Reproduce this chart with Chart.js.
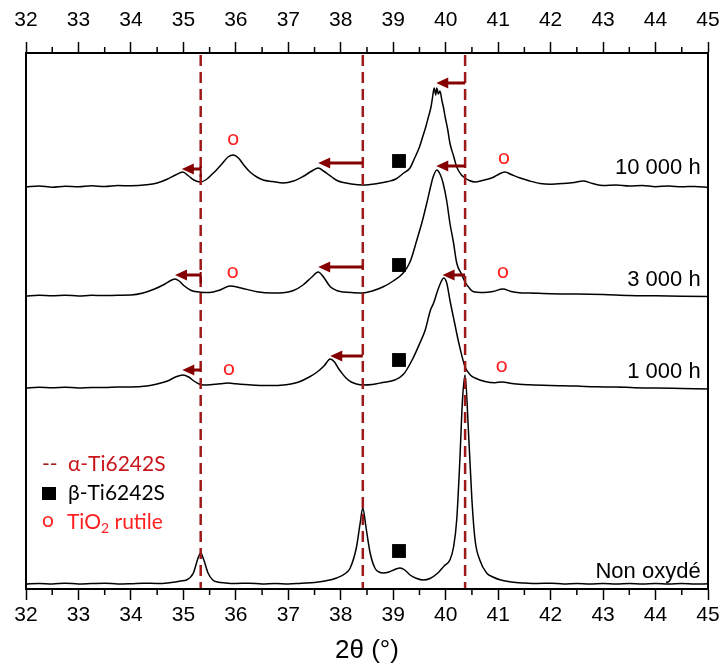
<!DOCTYPE html>
<html>
<head>
<meta charset="utf-8">
<script src="https://cdn.jsdelivr.net/npm/chart.js@4/dist/chart.umd.min.js"></script>
<style>
  html, body { margin: 0; padding: 0; background: #fff; }
  canvas { display: block; }
</style>
</head>
<body>
<canvas id="xrd" width="724" height="668"></canvas>
<script>
// --- DONNEES (2theta en degres, intensite decalee par echantillon) ---
const sampleNames = ['Non oxydé', '1 000 h', '3 000 h', '10 000 h'];
const sampleLabelY = [17, 217, 309, 421];
const alphaLines = [35.33, 38.42, 40.37];

const nonOxyde = [
  [32, 5], [32.25, 5.5], [32.5, 5], [32.75, 5.8], [33, 5], [33.25, 5.4], [33.5, 5.8], [33.75, 5], [34, 5.3],
  [34.25, 5.8], [34.5, 5.5], [34.7, 6], [34.85, 7], [34.95, 8], [35.06, 9], [35.19, 16], [35.28, 31],
  [35.33, 36], [35.39, 29], [35.47, 16], [35.56, 9], [35.65, 7], [35.8, 6], [36, 5.5], [36.25, 5.8],
  [36.5, 5], [36.75, 5.5], [37, 5], [37.25, 5.8], [37.5, 6.5], [37.7, 8], [37.92, 11], [38.1, 16],
  [38.18, 21], [38.3, 42], [38.37, 66], [38.42, 81], [38.48, 62], [38.56, 36], [38.65, 21], [38.73, 17],
  [38.81, 16], [38.92, 17], [39.03, 19.5], [39.13, 21], [39.22, 19], [39.32, 14], [39.45, 10.5],
  [39.57, 9], [39.7, 10.5], [39.85, 16], [39.97, 23], [40.08, 29], [40.15, 42], [40.21, 69],
  [40.27, 129], [40.32, 189], [40.37, 214], [40.43, 162], [40.5, 89], [40.56, 49], [40.65, 29],
  [40.78, 16], [40.9, 12], [41.05, 9], [41.25, 7], [41.5, 6], [41.75, 5.5], [42, 5.8], [42.25, 5],
  [42.5, 5.5], [42.75, 5], [43, 5.6], [43.25, 5], [43.5, 5.4], [43.75, 5], [44, 5.6], [44.25, 5],
  [44.5, 5.4], [44.75, 5], [45, 5.2]
];

const h1000 = [
  [32, 201], [32.25, 201.8], [32.5, 201.2], [32.75, 201.8], [33, 201], [33.25, 201.6], [33.5, 201.5],
  [33.75, 202], [34, 202], [34.3, 203], [34.5, 205], [34.7, 208], [34.85, 212], [34.99, 214],
  [35.1, 212], [35.2, 208], [35.3, 205], [35.4, 204], [35.55, 204.5], [35.7, 205.2], [35.85, 206],
  [36, 205.2], [36.3, 204], [36.6, 203.5], [36.85, 203.8], [37.05, 205], [37.2, 207], [37.4, 212],
  [37.55, 217], [37.68, 223], [37.8, 230], [37.88, 227], [37.95, 221], [38.02, 216], [38.1, 211],
  [38.2, 207], [38.3, 205], [38.42, 204], [38.6, 204.5], [38.8, 206.5], [39.03, 209], [39.2, 215],
  [39.36, 229], [39.5, 245], [39.61, 259], [39.71, 279], [39.77, 286], [39.85, 299], [39.92, 308],
  [39.96, 311], [40.02, 306], [40.08, 289], [40.17, 266], [40.25, 246], [40.37, 222], [40.47, 214],
  [40.56, 211], [40.75, 207.5], [40.94, 206.3], [41.07, 207], [41.3, 205.2], [41.6, 204.2], [42, 203.5],
  [42.5, 203], [42.85, 202.2], [43.25, 202], [43.6, 201.3], [44, 201], [44.5, 200.5], [45, 200]
];

const h3000 = [
  [32, 293], [32.25, 293.8], [32.5, 293.3], [32.75, 293.8], [33, 293], [33.25, 293.7], [33.5, 293.4],
  [33.75, 293.8], [34, 294], [34.23, 296], [34.45, 300], [34.65, 305], [34.78, 309], [34.84, 310],
  [34.92, 308], [35.02, 303], [35.15, 298.5], [35.32, 296.8], [35.5, 296.5], [35.7, 299], [35.89, 303],
  [36.1, 301], [36.4, 297.3], [36.7, 296], [36.9, 296.2], [37.1, 298.5], [37.28, 304], [37.45, 312],
  [37.57, 317], [37.67, 312], [37.8, 302.3], [37.92, 298.5], [38.05, 297], [38.25, 296.3], [38.42, 296],
  [38.6, 298], [38.8, 302], [39, 308], [39.19, 316], [39.32, 327], [39.45, 349], [39.55, 367],
  [39.64, 386], [39.72, 404], [39.76, 412], [39.83, 419], [39.9, 414], [39.95, 406], [40.02, 388],
  [40.08, 366], [40.15, 346], [40.21, 326], [40.3, 315], [40.37, 307], [40.45, 301], [40.52, 297.5],
  [40.72, 296.5], [40.9, 297.5], [41.09, 300], [41.25, 297.5], [41.4, 296.3], [41.6, 296], [42, 295.3],
  [42.5, 295], [43, 294.5], [43.5, 293.6], [44, 293.2], [44.5, 292.8], [45, 292.4]
];

const h10000 = [
  [32, 402], [32.25, 403], [32.5, 401.8], [32.75, 402.8], [33, 402.2], [33.25, 403.2], [33.5, 402.4],
  [33.75, 403.4], [34, 403.2], [34.3, 404.2], [34.5, 406], [34.7, 410], [34.85, 414], [34.99, 417],
  [35.1, 413], [35.2, 409], [35.32, 407], [35.45, 410], [35.55, 415], [35.63, 419], [35.75, 426],
  [35.85, 432], [35.95, 434], [36.05, 431], [36.15, 424], [36.27, 417], [36.4, 412], [36.52, 409],
  [36.7, 407.5], [36.9, 406], [37.1, 408], [37.28, 412.5], [37.45, 418], [37.57, 421], [37.67, 418],
  [37.83, 412], [37.95, 408], [38.05, 406.5], [38.2, 405], [38.42, 404], [38.7, 405.5], [38.9, 407.5],
  [39.05, 410], [39.2, 416], [39.32, 421], [39.4, 430], [39.5, 442], [39.56, 452], [39.62, 462],
  [39.67, 472], [39.72, 482], [39.75, 492], [39.78, 501], [39.81, 494], [39.83, 501], [39.86, 495],
  [39.89, 498], [39.93, 488], [39.96, 481], [39.99, 472], [40.04, 459], [40.08, 446], [40.15, 433],
  [40.21, 422], [40.3, 414], [40.37, 411], [40.45, 408.5], [40.56, 407], [40.7, 408.5], [40.9, 411.5],
  [41.02, 415], [41.13, 417], [41.25, 414.5], [41.42, 411], [41.6, 408], [41.8, 405.5], [42, 404.8],
  [42.25, 405.5], [42.45, 406.5], [42.62, 408], [42.8, 405.5], [43, 403.5], [43.25, 404], [43.5, 403],
  [43.75, 403.5], [44, 402.3], [44.25, 403], [44.5, 402.2], [44.75, 402.6], [45, 401.5]
];

// marqueurs beta (carres) et rutile (o)
const betaX = [39.11, 39.11, 39.11, 39.11];
const betaY = [38, 229, 324, 428];
const rutileX = [35.95, 41.11, 35.94, 41.09, 35.87, 41.07];
const rutileY = [449, 430, 316, 316, 219, 222];

// fleches de decalage (depart a droite -> pointe a gauche)
const arrowFrom = [35.33, 38.42, 40.37, 35.33, 38.42, 40.37, 35.33, 38.42, 40.37];
const arrowTo = [34.97, 37.57, 39.82, 34.84, 37.57, 39.82, 34.98, 37.8, 39.94];
const arrowY = [420, 426, 506, 314, 322, 423, 219, 233, 314];
const arrowBar = [true, false, false, true, false, false, false, false, false];

const toXY = arr => arr.map(p => ({ x: p[0], y: p[1] }));

const traceStyle = {
  borderColor: '#000', borderWidth: 1.5, pointRadius: 0, fill: false,
  cubicInterpolationMode: 'monotone'
};

const AXIS_FONT = 'Liberation Sans, Arial, sans-serif';
const LEG_FONT = 'Lato, "Open Sans", sans-serif';

const annotations = {
  id: 'annotations',
  afterDatasetsDraw(chart) {
    const ctx = chart.ctx;
    const xs = chart.scales.x, ys = chart.scales.y;
    const area = chart.chartArea;
    ctx.save();

    // lignes alpha en tirets
    ctx.strokeStyle = '#9e1a1a';
    ctx.lineWidth = 2.5;
    ctx.setLineDash([11, 6]);
    alphaLines.forEach(v => {
      const px = xs.getPixelForValue(v);
      ctx.beginPath();
      ctx.moveTo(px, area.top + 2);
      ctx.lineTo(px, area.bottom);
      ctx.stroke();
    });
    ctx.setLineDash([]);

    // fleches
    ctx.strokeStyle = '#850000';
    ctx.fillStyle = '#850000';
    for (let i = 0; i < arrowFrom.length; i++) {
      const x1 = xs.getPixelForValue(arrowFrom[i]);
      const x2 = xs.getPixelForValue(arrowTo[i]);
      const y = ys.getPixelForValue(arrowY[i]);
      ctx.lineWidth = 3;
      ctx.beginPath();
      ctx.moveTo(x1, y);
      ctx.lineTo(x2 + 9, y);
      ctx.stroke();
      ctx.beginPath();
      ctx.moveTo(x2, y);
      ctx.lineTo(x2 + 12, y - 5.5);
      ctx.lineTo(x2 + 12, y + 5.5);
      ctx.closePath();
      ctx.fill();
      if (arrowBar[i]) {
        ctx.lineWidth = 2;
        ctx.beginPath();
        ctx.moveTo(x1, y - 3);
        ctx.lineTo(x1, y + 8);
        ctx.stroke();
      }
    }

    // o rutile
    ctx.fillStyle = '#ff1f1f';
    ctx.font = '21px ' + LEG_FONT;
    ctx.textAlign = 'center';
    ctx.textBaseline = 'middle';
    rutileX.forEach((v, i) => {
      ctx.fillText('o', xs.getPixelForValue(v), ys.getPixelForValue(rutileY[i]) - 2);
    });

    // noms des echantillons
    ctx.fillStyle = '#000';
    ctx.font = '22px ' + AXIS_FONT;
    ctx.textAlign = 'right';
    sampleNames.forEach((n, i) => {
      ctx.fillText(n, xs.getPixelForValue(44.86), ys.getPixelForValue(sampleLabelY[i]));
    });

    // legende
    const lx = area.left + 16;
    ctx.textAlign = 'left';
    ctx.font = '21px ' + LEG_FONT;
    ctx.fillStyle = '#a11818';
    ctx.fillText('--', lx, 464);
    ctx.fillStyle = '#c8161c';
    ctx.fillText('α-Ti6242S', lx + 26, 464);
    ctx.fillStyle = '#000';
    ctx.fillRect(lx, 487, 14, 13);
    ctx.fillText('β-Ti6242S', lx + 26, 493);
    ctx.fillStyle = '#ff1f1f';
    ctx.fillText('o', lx, 520);
    let tx = lx + 25;
    ctx.fillText('TiO', tx, 522);
    tx += ctx.measureText('TiO').width;
    ctx.font = '14px ' + LEG_FONT;
    ctx.fillText('2', tx, 528);
    tx += ctx.measureText('2').width;
    ctx.font = '21px ' + LEG_FONT;
    ctx.fillText(' rutile', tx, 522);

    // cadre + petites graduations
    ctx.strokeStyle = '#000';
    ctx.lineWidth = 2;
    ctx.strokeRect(area.left, area.top, area.right - area.left, area.bottom - area.top);
    ctx.lineWidth = 1.5;
    for (let v = 32.5; v < 45; v += 1) {
      const px = xs.getPixelForValue(v);
      ctx.beginPath();
      ctx.moveTo(px, area.bottom);
      ctx.lineTo(px, area.bottom + 6);
      ctx.moveTo(px, area.top);
      ctx.lineTo(px, area.top - 6);
      ctx.stroke();
    }
    ctx.restore();
  }
};

const xAxisBase = {
  type: 'linear', min: 32, max: 45,
  grid: { drawOnChartArea: false, drawTicks: true, tickLength: 11, tickColor: '#000', tickWidth: 1.5 },
  border: { display: true, color: '#000', width: 2 }
};

new Chart(document.getElementById('xrd'), {
  type: 'line',
  data: {
    datasets: [
      { ...traceStyle, label: sampleNames[0], data: toXY(nonOxyde) },
      { ...traceStyle, label: sampleNames[1], data: toXY(h1000) },
      { ...traceStyle, label: sampleNames[2], data: toXY(h3000) },
      { ...traceStyle, label: sampleNames[3], data: toXY(h10000) },
      {
        type: 'scatter', label: 'beta', data: betaX.map((x, i) => ({ x, y: betaY[i] })),
        pointStyle: 'rect', pointRadius: 9.8, backgroundColor: '#000', borderWidth: 0, showLine: false
      }
    ]
  },
  options: {
    responsive: false, animation: false, devicePixelRatio: 1,
    layout: { padding: { left: 26, right: 16, top: 0, bottom: 0 } },
    plugins: { legend: { display: false }, tooltip: { enabled: false } },
    scales: {
      x: {
        ...xAxisBase, position: 'bottom',
        ticks: { stepSize: 1, autoSkip: false, maxRotation: 0, color: '#000', padding: 3,
                 font: { family: AXIS_FONT, size: 21 } },
        title: { display: true, text: '2θ (°)', color: '#000', padding: { top: 0, bottom: 2 },
                 font: { family: AXIS_FONT, size: 26 } },
        afterFit: s => { s.height = 79; s.paddingLeft = 0; s.paddingRight = 0; }
      },
      x2: {
        ...xAxisBase, position: 'top',
        ticks: { stepSize: 1, autoSkip: false, maxRotation: 0, color: '#000', padding: 9,
                 font: { family: AXIS_FONT, size: 21 } },
        afterFit: s => { s.height = 53; s.paddingLeft = 0; s.paddingRight = 0; }
      },
      y: { display: false, min: 0, max: 536 }
    }
  },
  plugins: [annotations]
});
</script>
</body>
</html>
